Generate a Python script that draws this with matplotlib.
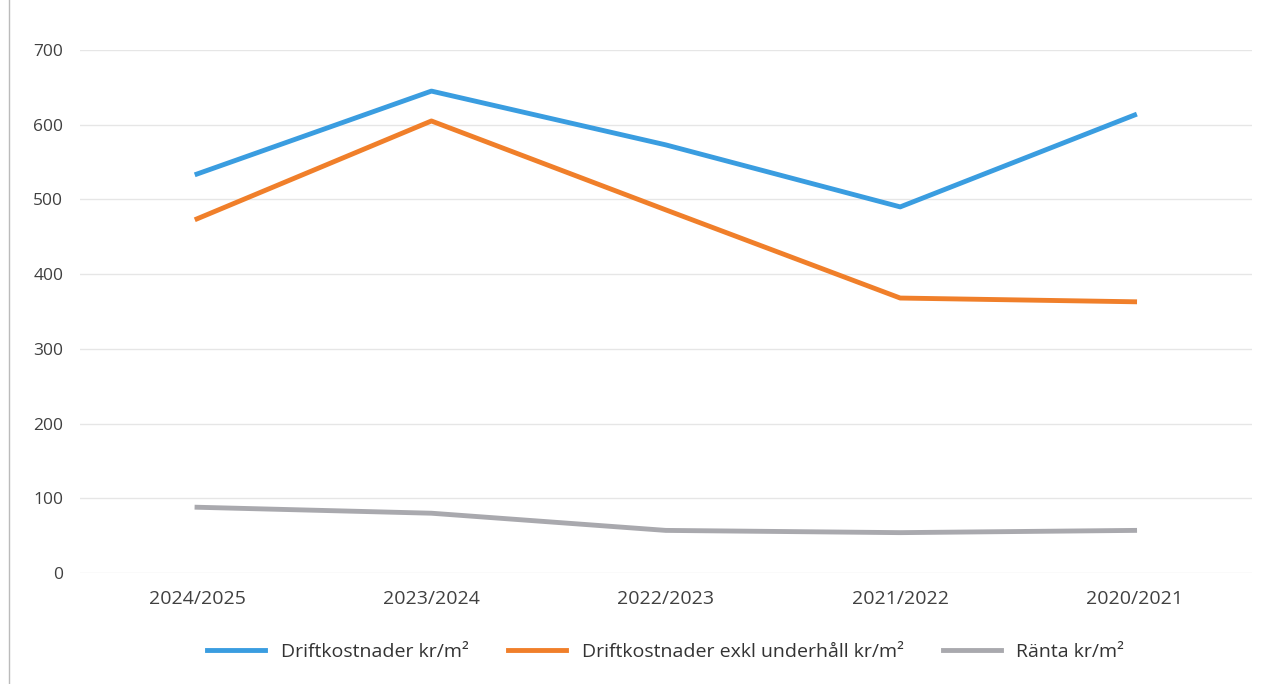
import matplotlib.pyplot as plt
import numpy as np

years = ["2024/2025", "2023/2024", "2022/2023", "2021/2022", "2020/2021"]
drift = [534, 645, 573, 490, 613]
drift_exkl = [474, 605, 486, 368, 363]
ranta = [88, 80, 57, 54, 57]

plt.rcParams['font.family'] = ['Open Sans', 'DejaVu Sans']

fig = plt.figure(figsize=(12.67, 6.84), dpi=100)
ax = fig.add_axes([0.063, 0.1623, 0.925, 0.7646])

x = np.arange(len(years))
ax.plot(x, drift, color='#3a9de0', linewidth=3.5, label='Driftkostnader kr/m²')
ax.plot(x, drift_exkl, color='#f07f2a', linewidth=3.5, label='Driftkostnader exkl underhåll kr/m²')
ax.plot(x, ranta, color='#a9a9ae', linewidth=3.5, label='Ränta kr/m²')

ax.set_xlim(-0.5, len(years) - 0.5)
ax.set_ylim(0, 700)
ax.set_yticks(range(0, 701, 100))
ax.set_xticks(x)
ax.set_xticklabels(years)
ax.grid(axis='y', color='#e6e6e6', linewidth=1)
ax.set_axisbelow(True)
for s in ax.spines.values():
    s.set_visible(False)
ax.tick_params(axis='both', length=0, colors='#404040')
ax.tick_params(axis='x', pad=12, labelsize=14)
ax.tick_params(axis='y', pad=12, labelsize=12.5)

ax.legend(loc='upper center', bbox_to_anchor=(0.5, -0.1), ncol=3, frameon=False,
          fontsize=14, handlelength=3, columnspacing=2.0, labelcolor='#333333')

# scan edge on the left
fig.add_artist(plt.Line2D([0.007, 0.007], [0.0, 1.0], color='#bbbbbb', linewidth=1))

fig.savefig('out.png', dpi=100, facecolor='white')
